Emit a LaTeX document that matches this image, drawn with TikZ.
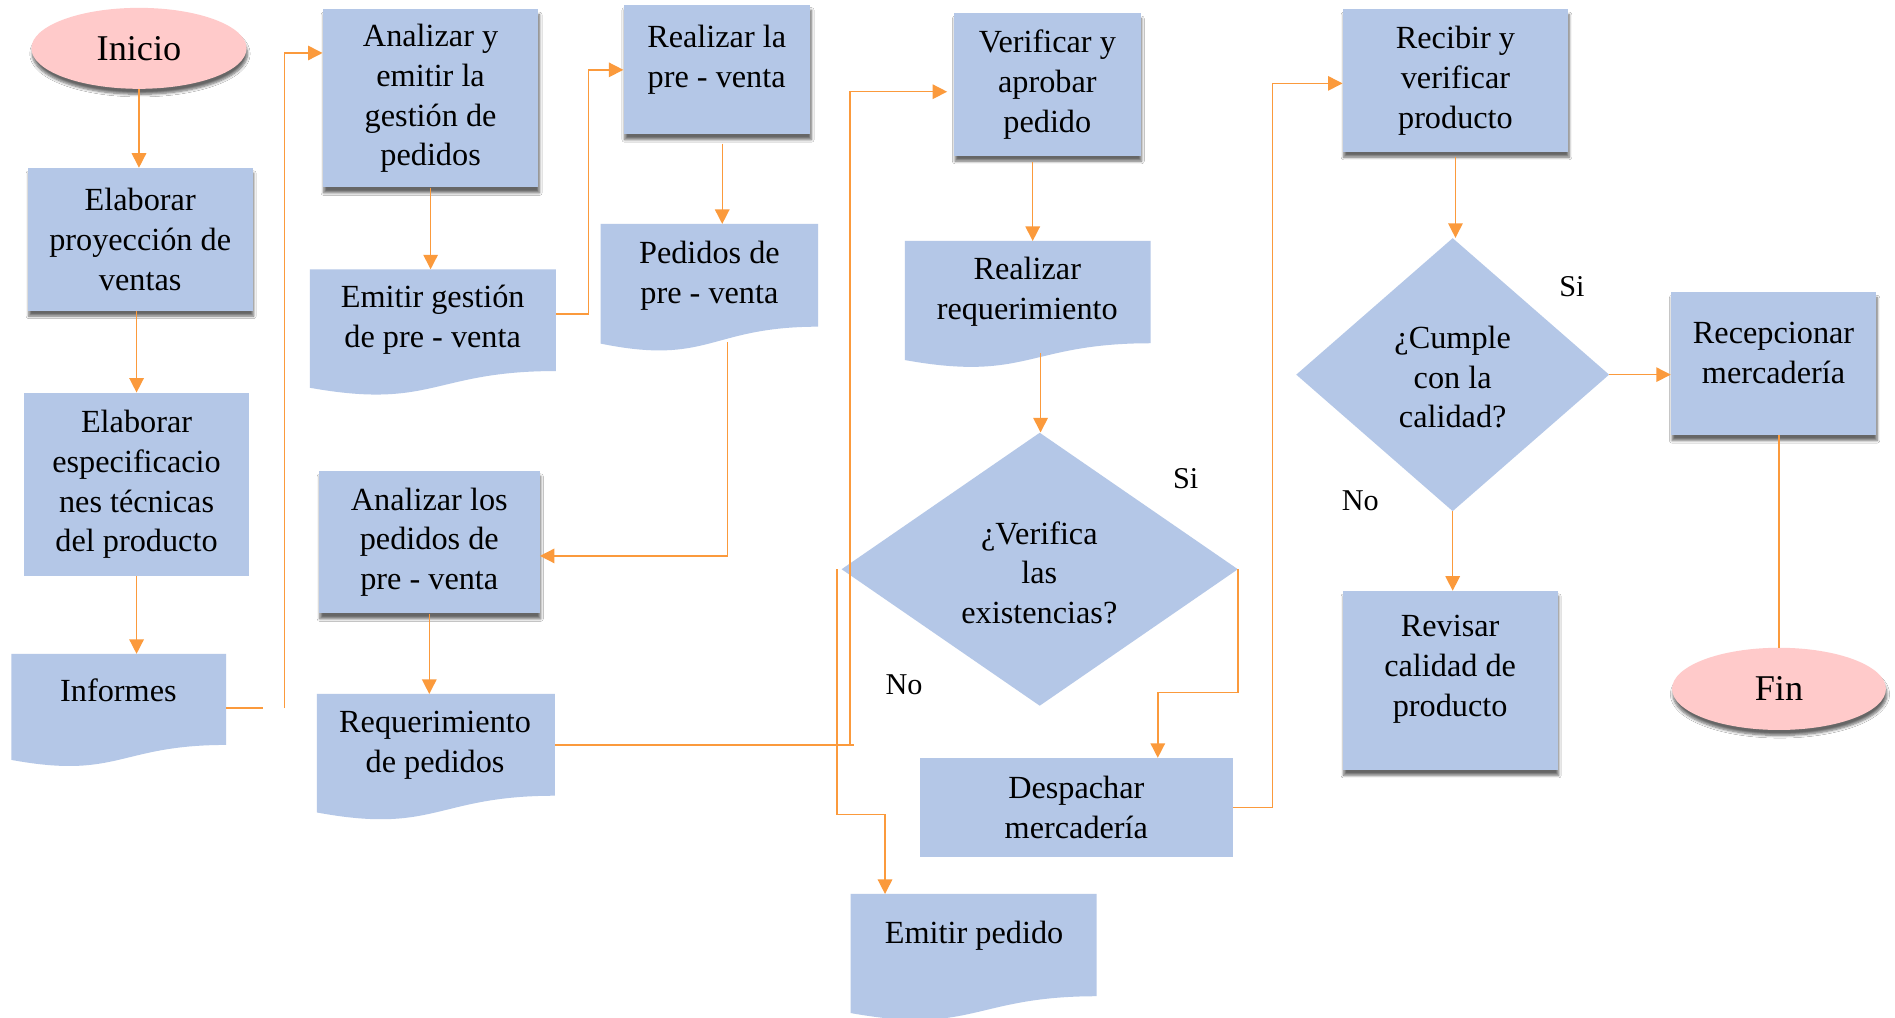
\documentclass[tikz,border=0pt]{standalone}
\usepackage{fontspec}
\setmainfont{Liberation Serif}
\usetikzlibrary{arrows.meta,shapes.geometric,shadows.blur,calc}
\definecolor{boxblue}{HTML}{B4C7E7}
\definecolor{pinkfill}{HTML}{FFCACA}
\definecolor{lineorange}{HTML}{FB9A3C}
\newcommand{\fsmain}{\fontsize{26.7}{33}\selectfont}
\newcommand{\fsend}{\fontsize{30}{36}\selectfont}
\newcommand{\fslab}{\fontsize{25}{30}\selectfont}
% document shape: left, top, width, full height
\newcommand{\docfill}[4]{\fill[boxblue] (#1,#2) -- ({#1+#3},#2) -- ({#1+#3},{#2+0.802*#4})
  .. controls ({#1+0.5*#3},{#2+0.802*#4}) and ({#1+0.5*#3},{#2+1.1075*#4}) .. (#1,{#2+0.934*#4}) -- cycle;}
\begin{document}
\begin{tikzpicture}[x=1pt,y=-1pt,
  proc/.style={rectangle, fill=boxblue, inner sep=0pt, align=center, font=\fsmain},
  shad/.style={blur shadow={shadow xshift=0.8pt, shadow yshift=-4.5pt, shadow blur radius=2.2pt, shadow blur steps=6, shadow opacity=60}},
  term/.style={ellipse, fill=pinkfill, inner sep=0pt, font=\fsend, shad},
  dec/.style={diamond, fill=boxblue, inner sep=0pt},
  docarea/.style={rectangle, inner sep=0pt, anchor=north west},
  txt/.style={inner sep=0pt, align=center, font=\fsmain},
  lab/.style={inner sep=0pt, font=\fslab},
  line/.style={draw=lineorange, line width=1.2pt},
  arr/.style={line, -{Triangle[length=12pt,width=12pt]}}
]
\fill[white] (0,0) rectangle (1568,842);
\useasboundingbox (0,0) rectangle (1568,842);

% ---------- column 1
\node[term, minimum width=178, minimum height=67] (ini) at (115,40) {Inicio};
\node[proc, shad, minimum width=186, minimum height=118] (p1) at (116,198) {Elaborar\\proyección de\\ventas};
\node[proc, minimum width=186, minimum height=151.6] (p2) at (113,400.8) {Elaborar\\especificacio\\nes técnicas\\del producto};
\docfill{9.5}{541}{177.5}{94}
\node[docarea, minimum width=177.5, minimum height=75.4] (d1) at (9.5,541) {};
\node[txt] (d1t) at (98,571) {Informes};

% ---------- column 2
\node[proc, shad, minimum width=178.5, minimum height=147.3] (p3) at (356.3,81.4) {Analizar y\\emitir la\\gestión de\\pedidos};
\docfill{256.5}{222.8}{203.5}{105}
\node[docarea, minimum width=203.5, minimum height=84.2] (d2) at (256.5,222.8) {};
\node[txt] (d2t) at (358,264.5) {Emitir gestión\\de pre - venta};
\node[proc, shad, minimum width=182.7, minimum height=117.8] (p5) at (355.2,448.6) {Analizar los\\pedidos de\\pre - venta};
\docfill{262.2}{574.2}{197}{105}
\node[docarea, minimum width=197, minimum height=84.2] (d4) at (262.2,574.2) {};
\node[txt] (d4t) at (360,616.5) {Requerimiento\\de pedidos};

% ---------- column 3
\node[proc, shad, minimum width=154.6, minimum height=107] (p4) at (593.3,57.5) {};
\node[txt] (p4t) at (593,49.5) {Realizar la\\pre - venta};
\docfill{497}{185.3}{180}{106}
\node[docarea, minimum width=180, minimum height=85] (d3) at (497,185.3) {};
\node[txt] (d3t) at (587,228) {Pedidos de\\pre - venta};

% ---------- column 4
\node[proc, shad, minimum width=154.4, minimum height=117.8] (p6) at (866.6,69.9) {Verificar y\\aprobar\\pedido};
\docfill{748.8}{199.4}{203.2}{105.5}
\node[docarea, minimum width=203.2, minimum height=84.6] (d5) at (748.8,199.4) {};
\node[txt] (d5t) at (850,241.5) {Realizar\\requerimiento};
\node[dec, minimum width=328, minimum height=226] (q1) at (860.3,471) {};
\node[txt] (q1t) at (860,474) {¿Verifica\\las\\existencias?};
\node[proc, minimum width=258.8, minimum height=81.5] (p7) at (890.6,668) {Despachar\\mercadería};
\docfill{703.9}{739.7}{203.5}{105.5}
\node[docarea, minimum width=203.5, minimum height=84.6] (d6) at (703.9,739.7) {};
\node[txt] (d6t) at (806,774) {Emitir pedido};
\node[lab] (si1) at (981,396) {Si};
\node[lab] (no1) at (748,567) {No};

% ---------- column 5
\node[proc, shad, minimum width=186.5, minimum height=117.8] (p8) at (1204.3,66.6) {Recibir y\\verificar\\producto};
\node[dec, minimum width=259, minimum height=226] (q2) at (1202,310) {};
\node[txt] (q2t) at (1202,312) {¿Cumple\\con la\\calidad?};
\node[proc, shad, minimum width=177.8, minimum height=148] (p10) at (1199.9,563) {};
\node[txt] (p10t) at (1199.9,554) {Revisar\\calidad de\\producto};
\node[lab] (si2) at (1300.7,237) {Si};
\node[lab] (no2) at (1125.6,414) {No};

% ---------- column 6
\node[proc, shad, minimum width=169.7, minimum height=118] (p9) at (1467.5,301) {};
\node[txt] (p9t) at (1467.5,292.3) {Recepcionar\\mercadería};
\node[term, minimum width=177, minimum height=68] (fin) at (1472,570) {Fin};

% ---------- connectors
\draw[arr] (ini.south) -- (ini.south |- p1.north);
\draw[arr] (p2.north |- p1.south) -- (p2.north);
\draw[arr] (p2.south) -- (p2.south |- d1.north);
\draw[line] ($(d1.north east)+(0,45)$) -- ($(d1.north east)+(30.5,45)$);
\draw[arr] ($(d1.north east)+(48,45)$) |- ($(p3.north west)+(0,36.3)$);
\draw[arr] (p3.south) -- (p3.south |- d2.north);
\draw[arr] ($(d2.north east)+(0,37.2)$) -- ($(d2.north east)+(26.6,37.2)$) |- ($(p4.north west)+(0,54)$);
\coordinate (c7s) at ($(p4.south)+(4.3,7.6)$);
\draw[arr] (c7s) -- (c7s |- d3.north);
\coordinate (c8s) at ($(d3.south west)+(105,12.4)$);
\coordinate (c8e) at ($(p5.east)+(0,11.4)$);
\draw[arr] (c8s) |- (c8e);
\draw[arr] (p5.south) -- (p5.south |- d4.north);
\draw[line] (d4.east) -- ($(d4.east)+(246.8,0)$);
\coordinate (c10b) at ($(d4.east)+(243.8,0)$);
\coordinate (c10e) at ($(p6.west)+(-5.5,6)$);
\draw[arr] (c10b) |- (c10e);
\coordinate (c11s) at ($(p6.south)+(-12.1,5)$);
\draw[arr] (c11s) -- (c11s |- d5.north);
\coordinate (c12s) at ($(d5.south west)+(112.2,8)$);
\draw[arr] (c12s) -- (c12s |- q1.north);
\coordinate (c13m) at ($(q1.east)+(0,102)$);
\coordinate (c13e) at ($(p7.north)+(67.4,0)$);
\draw[arr] (q1.east) -- (c13m) -| (c13e);
\coordinate (c14a) at ($(q1.west)+(-3.4,0)$);
\coordinate (c14m) at ($(q1.west)+(-3.4,203)$);
\coordinate (c14e) at ($(d6.north west)+(28.4,0)$);
\draw[arr] (c14a) -- (c14m) -| (c14e);
\draw[arr] (p7.east) -- ($(p7.east)+(32.7,0)$) |- ($(p8.west)+(0,2.4)$);
\coordinate (c16s) at ($(p8.south)+(0,4.5)$);
\draw[arr] (c16s) -- (c16s |- q2.north);
\draw[arr] (q2.east) -- (q2.east -| p9.west);
\draw[arr] (q2.south) -- (q2.south |- p10.north);
\draw[line] (p9.south -| fin.north) -- (fin.north);
\end{tikzpicture}
\end{document}
